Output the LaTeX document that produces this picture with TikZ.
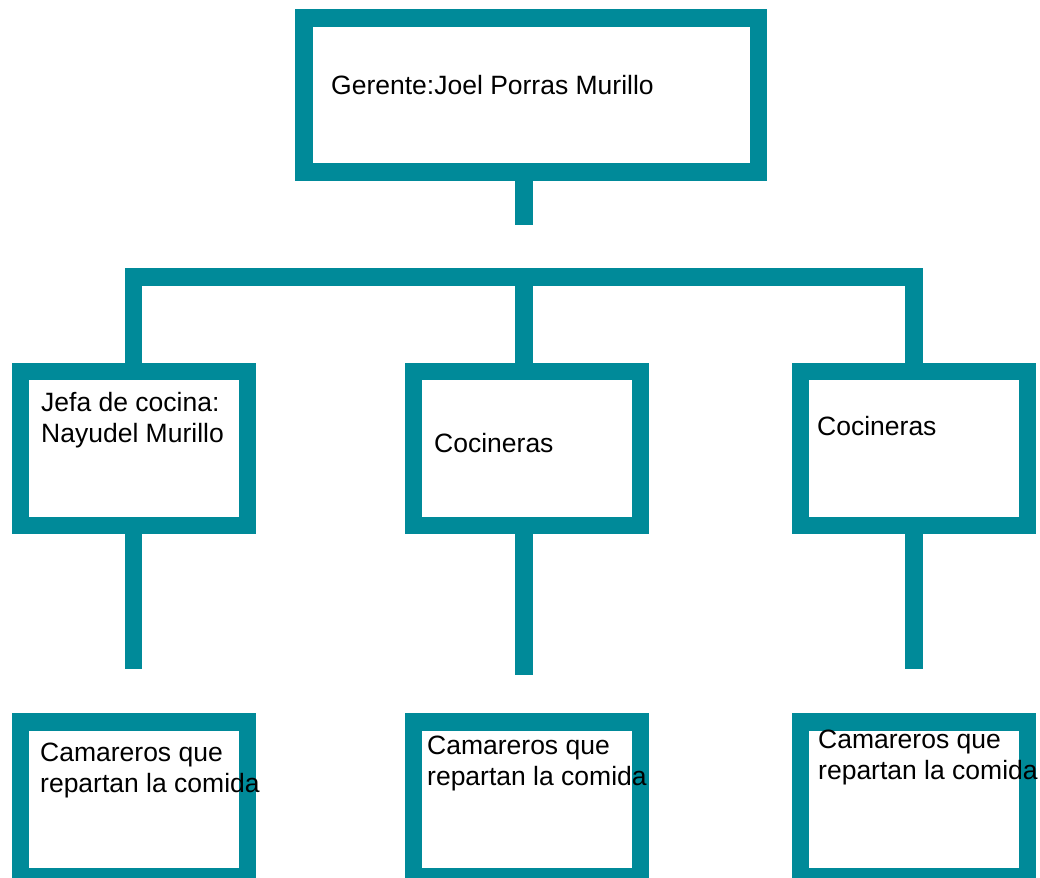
\documentclass[tikz,border=0pt]{standalone}
\usepackage{fontspec}
\setmainfont{Liberation Sans}
\definecolor{teal1}{HTML}{008A99}
\begin{document}
\begin{tikzpicture}[x=1pt,y=-1pt,
  box/.style={draw=teal1,line width=17.5pt,rectangle,inner sep=0pt,fill=white},
  link/.style={draw=teal1,line width=17.5pt,line cap=butt,line join=miter},
  lbl/.style={anchor=base west,inner sep=0pt,align=left,font=\fontsize{26.5pt}{30.5pt}\selectfont,text=black}]
\useasboundingbox (0,0) rectangle (1040,877);
% boxes
\node[box,minimum width=454.5pt,minimum height=154pt] (top) at (531.25,95) {};
\node[box,minimum width=227pt,minimum height=154pt] (jefa) at (134,448.5) {};
\node[box,minimum width=227pt,minimum height=154pt] (coc1) at (527,448.5) {};
\node[box,minimum width=227pt,minimum height=154pt] (coc2) at (914,448.5) {};
\node[box,minimum width=227pt,minimum height=155pt] (cam1) at (134,799.5) {};
\node[box,minimum width=227pt,minimum height=155pt] (cam2) at (527,799.5) {};
\node[box,minimum width=227pt,minimum height=155pt] (cam3) at (914,799.5) {};
% connector coordinates
\coordinate (hub) at (524,225);
\coordinate (barL) at (133.5,277);
\coordinate (barM) at (524,277);
\coordinate (barR) at (914,277);
\coordinate (e1) at (133.5,669);
\coordinate (e2) at (524,675);
\coordinate (e3) at (914,669);
% connectors
\draw[link] (top.south -| hub) -- (hub);
\draw[link] (jefa.north -| barL) -- (barL) -- (barR) -- (coc2.north -| barR);
\draw[link] (barM) -- (coc1.north -| barM);
\draw[link] (jefa.south -| e1) -- (e1);
\draw[link] (coc1.south -| e2) -- (e2);
\draw[link] (coc2.south -| e3) -- (e3);
% labels (base anchor of a two-line node is the last line's baseline)
\node[lbl] (tTop) at (331,95) {Gerente:Joel Porras Murillo};
\node[lbl] (tJefa) at (41,442) {Jefa de cocina:\\Nayudel Murillo};
\node[lbl] (tCoc1) at (434,452) {Cocineras};
\node[lbl] (tCoc2) at (817,435) {Cocineras};
\node[lbl] (tCam1) at (40,792) {Camareros que\\repartan la comida};
\node[lbl] (tCam2) at (427,785) {Camareros que\\repartan la comida};
\node[lbl] (tCam3) at (818,779) {Camareros que\\repartan la comida};
\end{tikzpicture}
\end{document}
